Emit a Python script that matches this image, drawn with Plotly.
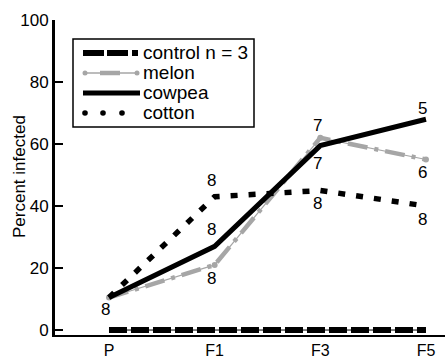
import plotly.graph_objects as go

# ---- data ----
categories = ["P", "F1", "F3", "F5"]
series_names = ["control n = 3", "melon", "cowpea", "cotton"]
control = [0, 0, 0, 0]
melon = [10.5, 21, 62, 55]
cowpea = [10.5, 27, 59.5, 68]
cotton = [10.5, 43, 45, 40]
y_ticks = [0, 20, 40, 60, 80, 100]
y_title = "Percent infected"

# sample size labels: (category, value, text, vertical shift in px)
n_labels = [
    ("P", 10.5, "8", -12),
    ("F1", cotton[1], "8", 16),
    ("F1", cowpea[1], "8", 17),
    ("F1", melon[1], "8", -14),
    ("F3", melon[2], "7", 12),
    ("F3", cowpea[2], "7", -18),
    ("F3", cotton[2], "8", -13),
    ("F5", cowpea[3], "5", 11),
    ("F5", melon[3], "6", -13),
    ("F5", cotton[3], "8", -13),
]

FONT = "Liberation Sans, Arial, Helvetica, sans-serif"
GRAY = "#A6A6A6"

fig = go.Figure()

# melon: thin gray line + thick dash-dot overlay + dots at points
fig.add_trace(go.Scatter(x=categories, y=melon, mode="lines+markers",
                         line=dict(color=GRAY, width=1.2),
                         marker=dict(color=GRAY, size=6), showlegend=False))
fig.add_trace(go.Scatter(x=categories, y=melon, mode="lines",
                         line=dict(color=GRAY, width=4.5, dash="20px,7px,4px,7px"),
                         showlegend=False))
# cowpea
fig.add_trace(go.Scatter(x=categories, y=cowpea, mode="lines",
                         line=dict(color="black", width=5), showlegend=False))
# cotton
fig.add_trace(go.Scatter(x=categories, y=cotton, mode="lines",
                         line=dict(color="black", width=5.5, dash="7px,11px"),
                         showlegend=False))
# control
fig.add_trace(go.Scatter(x=categories, y=control, mode="lines",
                         line=dict(color="black", width=1), showlegend=False))
fig.add_trace(go.Scatter(x=categories, y=control, mode="lines",
                         line=dict(color="black", width=6, dash="18px,4px"),
                         showlegend=False))

for cat, val, txt, sh in n_labels:
    fig.add_annotation(x=cat, y=val, text=txt, showarrow=False, xshift=-3, yshift=sh,
                       font=dict(family=FONT, size=17, color="black"))

# ---- custom legend (pixel -> paper helpers) ----
L, T, W, H = 55, 20, 390, 315


def px(x):
    return (x - L) / W


def py(y):
    return (T + H - y) / H


shapes = []
shapes.append(dict(type="rect", xref="paper", yref="paper", x0=px(73), x1=px(254),
                   y0=py(39), y1=py(127), line=dict(color="black", width=1.5),
                   fillcolor="white", layer="above"))
rows = [53, 73, 93, 113]
# control key
shapes.append(dict(type="line", xref="paper", yref="paper", x0=px(83), x1=px(140),
                   y0=py(rows[0]), y1=py(rows[0]),
                   line=dict(color="black", width=6, dash="21px,3px,21px,4px,6px,20px"),
                   layer="above"))
# melon key
shapes.append(dict(type="line", xref="paper", yref="paper", x0=px(84), x1=px(138),
                   y0=py(rows[1]), y1=py(rows[1]), line=dict(color=GRAY, width=1.3),
                   layer="above"))
shapes.append(dict(type="line", xref="paper", yref="paper", x0=px(100), x1=px(120),
                   y0=py(rows[1]), y1=py(rows[1]), line=dict(color=GRAY, width=4.5),
                   layer="above"))
for cx in (85, 137):
    shapes.append(dict(type="circle", xref="paper", yref="paper",
                       x0=px(cx - 2.5), x1=px(cx + 2.5), y0=py(rows[1] - 2.5), y1=py(rows[1] + 2.5),
                       fillcolor=GRAY, line=dict(width=0), layer="above"))
# cowpea key
shapes.append(dict(type="line", xref="paper", yref="paper", x0=px(83), x1=px(140),
                   y0=py(rows[2]), y1=py(rows[2]), line=dict(color="black", width=5),
                   layer="above"))
# cotton key
for cx in (85, 103, 122):
    shapes.append(dict(type="circle", xref="paper", yref="paper",
                       x0=px(cx - 2.8), x1=px(cx + 2.8), y0=py(rows[3] - 2.8), y1=py(rows[3] + 2.8),
                       fillcolor="black", line=dict(width=0), layer="above"))

for name, r in zip(series_names, rows):
    fig.add_annotation(xref="paper", yref="paper", x=px(141), y=py(r), text=name,
                       showarrow=False, xanchor="left", yanchor="middle",
                       font=dict(family=FONT, size=19, color="black"))

# y-axis title
fig.add_annotation(xref="paper", yref="paper", x=px(19), y=py(177), text=y_title,
                   textangle=-90, showarrow=False, xanchor="center", yanchor="middle",
                   font=dict(family=FONT, size=17, color="black"))

fig.update_layout(
    width=445, height=359,
    margin=dict(l=L, r=0, t=T, b=359 - T - H, autoexpand=False),
    paper_bgcolor="white", plot_bgcolor="white",
    showlegend=False,
    shapes=shapes,
    font=dict(family=FONT, size=17, color="black"),
)
fig.update_xaxes(type="category", categoryorder="array", categoryarray=categories,
                 range=[-0.511, 3.18], showgrid=False, zeroline=False, automargin=False,
                 showline=True, linecolor="black", linewidth=2,
                 ticks="", tickfont=dict(size=16), ticklabelstandoff=0)
fig.update_yaxes(range=[-1.6, 100], tickvals=y_ticks, showgrid=False, zeroline=False,
                 automargin=False,
                 showline=True, linecolor="black", linewidth=3,
                 ticks="inside", ticklen=8, tickwidth=1.5, tickcolor="black",
                 tickfont=dict(size=17))

fig.write_html("out.html", config={"displayModeBar": False},
               post_script="document.body.style.margin='0px';document.body.style.overflow='hidden';")
